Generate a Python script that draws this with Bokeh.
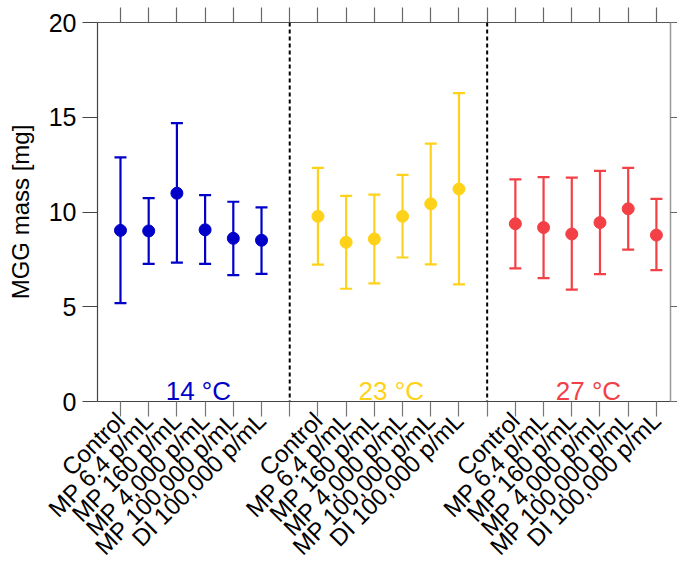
import math
from bokeh.plotting import figure
from bokeh.models import (ColumnDataSource, Range1d, LinearAxis, FixedTicker, Span)
from bokeh.core.properties import value
from bokeh.embed import file_html
from bokeh.resources import INLINE

# ---- data ----
groups = ["14 °C", "23 °C", "27 °C"]
group_colors = ["#0000C8", "#FFD21A", "#F24046"]
categories = ["Control", "MP 6.4 p/mL", "MP 160 p/mL", "MP 4,000 p/mL",
              "MP 100,000 p/mL", "DI 100,000 p/mL"]

mean_14 = [9.03, 9.00, 10.99, 9.06, 8.61, 8.51]
upper_14 = [12.88, 10.73, 14.69, 10.89, 10.54, 10.24]
lower_14 = [5.19, 7.26, 7.33, 7.26, 6.67, 6.74]

mean_23 = [9.77, 8.40, 8.58, 9.77, 10.43, 11.21]
upper_23 = [12.33, 10.85, 10.92, 11.96, 13.61, 16.27]
lower_23 = [7.22, 5.95, 6.23, 7.60, 7.24, 6.18]

mean_27 = [9.38, 9.18, 8.84, 9.44, 10.17, 8.78]
upper_27 = [11.72, 11.84, 11.81, 12.17, 12.33, 10.69]
lower_27 = [7.03, 6.51, 5.90, 6.72, 8.01, 6.93]

y_ticks = [0, 5, 10, 15, 20]

means = [mean_14, mean_23, mean_27]
uppers = [upper_14, upper_23, upper_27]
lowers = [lower_14, lower_23, lower_27]

n = len(categories)
step = n + 1  # one slot for the separator

FONT = "Liberation Sans"

p = figure(width=677, height=572, output_backend="svg", toolbar_location=None,
           x_range=Range1d(0.185, 20.5), y_range=Range1d(0, 20),
           min_border_left=97, min_border_right=7, min_border_top=22,
           min_border_bottom=166)
p.background_fill_color = "white"
p.border_fill_color = "white"
p.outline_line_color = None
p.xgrid.visible = False
p.ygrid.visible = False

all_ticks = list(range(1, 3 * step))
cat_ticks = []
overrides = {}
for g in range(3):
    for i, c in enumerate(categories):
        cat_ticks.append(g * step + i + 1)
        overrides[g * step + i + 1] = c
sep_ticks = [g * step for g in range(1, 3)]

# bottom axis
xa = p.xaxis[0]
xa.ticker = FixedTicker(ticks=cat_ticks, minor_ticks=sep_ticks)
xa.major_label_overrides = overrides
xa.major_label_orientation = math.pi / 4
xa.major_label_text_font = FONT
xa.major_label_text_font_size = "24px"
xa.major_label_text_color = "black"
xa.major_tick_out = 15
xa.major_tick_in = 0
xa.minor_tick_out = 15
xa.minor_tick_in = 0
xa.axis_line_color = "#444444"
xa.major_tick_line_color = "#777777"
xa.minor_tick_line_color = "#777777"
xa.axis_line_width = 1.2
xa.major_tick_line_width = 1.2
xa.minor_tick_line_width = 1.2
xa.major_label_standoff = 0
xa.axis_label_standoff = 0

# left axis
ya = p.yaxis[0]
ya.ticker = FixedTicker(ticks=y_ticks)
ya.major_label_text_font = FONT
ya.major_label_text_font_size = "25px"
ya.major_label_text_color = "black"
ya.major_tick_out = 15
ya.major_tick_in = 0
ya.minor_tick_line_color = None
ya.axis_line_color = "#444444"
ya.major_tick_line_color = "#444444"
ya.axis_line_width = 1.2
ya.major_tick_line_width = 1.2
ya.major_label_standoff = 6
ya.axis_label = "MGG mass [mg]"
ya.axis_label_text_font = FONT
ya.axis_label_text_font_size = "24px"
ya.axis_label_text_font_style = "normal"
ya.axis_label_text_color = "black"
ya.axis_label_standoff = 12

# top axis (ticks only)
ta = LinearAxis(ticker=FixedTicker(ticks=[], minor_ticks=all_ticks),
                minor_tick_out=15, minor_tick_in=0,
                axis_line_color="#555555", minor_tick_line_color="#666666",
                axis_line_width=1.2, minor_tick_line_width=1.2)
p.add_layout(ta, "above")

# right axis (ticks only)
ra = LinearAxis(ticker=FixedTicker(ticks=[], minor_ticks=y_ticks),
                minor_tick_out=7, minor_tick_in=0,
                axis_line_color="#999999", minor_tick_line_color="#666666",
                axis_line_width=1.5, minor_tick_line_width=1.2)
p.add_layout(ra, "right")

# separators
for s in sep_ticks:
    p.add_layout(Span(location=s, dimension="height", line_color="black",
                      line_width=2, line_dash="4 3"))

# data
for g in range(3):
    xs = [g * step + i + 1 for i in range(n)]
    src = ColumnDataSource(dict(x=xs, m=means[g], up=uppers[g], lo=lowers[g]))
    col = group_colors[g]
    p.segment(x0="x", y0="lo", x1="x", y1="up", source=src,
              line_color=col, line_width=2.2)
    p.scatter(x="x", y="up", source=src, marker="dash", size=12,
              line_color=col, line_width=2.2)
    p.scatter(x="x", y="lo", source=src, marker="dash", size=12,
              line_color=col, line_width=2.2)
    p.scatter(x="x", y="m", source=src, marker="circle", size=12,
              fill_color=col, line_color=col)

# group labels
label_src = ColumnDataSource(dict(x=[3.76, 10.6, 17.59], y=[0.57] * 3,
                                  t=groups, c=group_colors))
p.text(x="x", y="y", text="t", text_color="c", source=label_src,
       text_align="center", text_baseline="alphabetic",
       text_font=value(FONT), text_font_size="26px")

open("out.html", "w").write(file_html(p, INLINE))
